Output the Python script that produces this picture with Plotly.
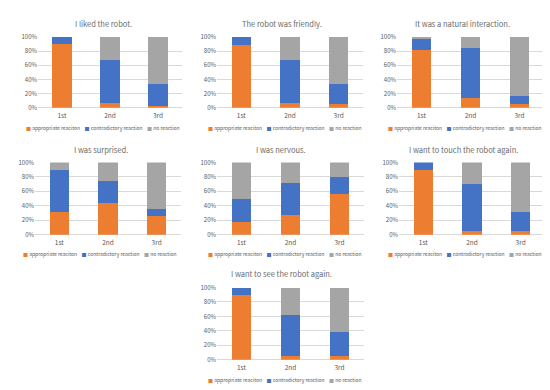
import plotly.graph_objects as go

categories = ["1st", "2nd", "3rd"]
titles = [
    "I liked the robot.",
    "The robot was friendly.",
    "It was a natural interaction.",
    "I was surprised.",
    "I was nervous.",
    "I want to touch the robot again.",
    "I want to see the robot again.",
]
appropriate = [[90, 7, 2], [88, 7, 5], [82, 14, 5], [32, 44, 26], [17, 27, 57], [90, 5, 5], [90, 5, 5]]
contradictory = [[10, 60, 31], [12, 60, 28], [15, 71, 12], [58, 31, 10], [33, 45, 23], [10, 65, 26], [10, 57, 33]]
no_reaction = [[0, 33, 67], [0, 33, 67], [3, 15, 83], [10, 25, 64], [50, 28, 20], [0, 30, 69], [0, 38, 62]]
series_names = ["appropriate reaciton", "contradictory reaction", "no reaction"]
colors = ["#ED7D31", "#4472C4", "#A5A5A5"]
y_ticks = [0, 20, 40, 60, 80, 100]
y_tick_labels = ["0%", "20%", "40%", "60%", "80%", "100%"]

W, H = 550, 390
FONT = "Noto Sans CJK JP"
TXT = "#595959"

# pixel boxes of plot areas: left, right, top, bottom
boxes = [
    (30, 174, 24.5, 97), (209, 355, 24.5, 97), (389, 536, 24.5, 97),
    (27, 173, 153, 227), (209, 356, 153, 227), (391, 537, 153, 227),
    (209, 356, 281, 355),
]
title_pos = [(95, 11), (274, 11), (454, 11), (93, 140), (273, 140), (455, 140), (273, 267)]
legend_pos = [(95, 118), (277, 118), (457, 118), (92, 247), (277, 247), (457, 247), (277, 376)]

fig = go.Figure()
layout = dict(
    width=W, height=H, margin=dict(l=0, r=0, t=0, b=0),
    paper_bgcolor="white", plot_bgcolor="white",
    barmode="stack", showlegend=False,
    font=dict(family=FONT, color=TXT),
)
annotations = []
for i in range(7):
    sfx = "" if i == 0 else str(i + 1)
    l, r, t, b = boxes[i]
    vals = [appropriate[i], contradictory[i], no_reaction[i]]
    for name, v, c in zip(series_names, vals, colors):
        fig.add_trace(go.Bar(x=categories, y=v, name=name, marker_color=c,
                             marker_line_width=0, width=0.4,
                             xaxis="x" + sfx, yaxis="y" + sfx))
    layout["xaxis" + sfx] = dict(
        domain=[l / W, r / W], anchor="y" + sfx, range=[-0.5, 2.5],
        showgrid=False, zeroline=False, showline=False, ticks="",
        ticklabelstandoff=3,
        tickfont=dict(size=6.5, color=TXT, family=FONT),
    )
    layout["yaxis" + sfx] = dict(
        domain=[1 - b / H, 1 - t / H], anchor="x" + sfx, range=[0, 100],
        tickmode="array", tickvals=y_ticks, ticktext=y_tick_labels,
        showgrid=True, gridcolor="#D9D9D9", gridwidth=0.8,
        zeroline=True, zerolinecolor="#D9D9D9", zerolinewidth=0.8,
        ticks="", tickfont=dict(size=6, color=TXT, family=FONT),
    )
    tx, ty = title_pos[i]
    annotations.append(dict(text=titles[i], x=tx / W, y=1 - ty / H, xref="paper", yref="paper",
                            xanchor="center", yanchor="middle", showarrow=False,
                            font=dict(size=7.5, color="#6b6b6b", family=FONT)))
    lx, ly = legend_pos[i]
    leg = "    ".join(f"<span style='color:{c}'>■</span> {n}" for n, c in zip(series_names, colors))
    annotations.append(dict(text=leg, x=lx / W, y=1 - ly / H, xref="paper", yref="paper",
                            xanchor="center", yanchor="middle", showarrow=False,
                            font=dict(size=5, color=TXT, family=FONT)))
layout["annotations"] = annotations
fig.update_layout(**layout)
fig.write_html("out.html")
